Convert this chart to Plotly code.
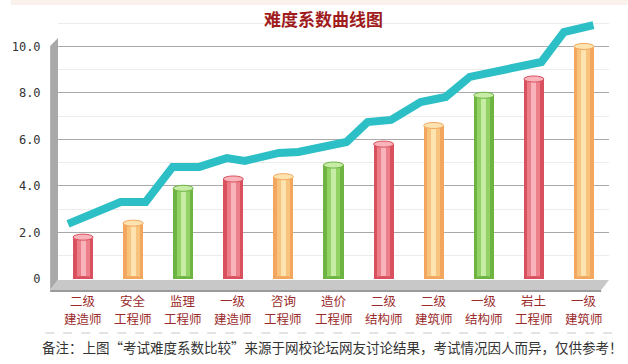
import plotly.graph_objects as go

label_top = ["二级", "安全", "监理", "一级", "咨询", "造价", "二级", "二级", "一级", "岩土", "一级"]
label_bottom = ["建造师", "工程师", "工程师", "建造师", "工程师", "工程师", "结构师", "建筑师", "结构师", "工程师", "建筑师"]
bar_values = [1.8, 2.4, 3.9, 4.3, 4.4, 4.9, 5.8, 6.6, 7.9, 8.6, 10.0]
bar_groups = ["r", "o", "g", "r", "o", "g", "r", "o", "g", "r", "o"]

line_x = [-0.30, 0.75, 1.25, 1.79, 2.32, 2.87, 3.23, 3.91, 4.30, 5.26, 5.68, 6.15, 6.74, 7.24, 7.72, 9.15, 9.60, 10.19]
line_y = [2.37, 3.31, 3.31, 4.82, 4.82, 5.20, 5.08, 5.42, 5.46, 5.89, 6.75, 6.84, 7.61, 7.83, 8.69, 9.33, 10.62, 10.92]

y_tickvals = [0, 2, 4, 6, 8, 10]
y_ticktext = ["0", "2.0", "4.0", "6.0", "8.0", "10.0"]

title_text = "难度系数曲线图"
note_text = "备注：上图“考试难度系数比较”来源于网校论坛网友讨论结果，考试情况因人而异，仅供参考！"

palette = {
    "r": ("#D9505F", "#EC7F8A", "#F8B4BA"),
    "o": ("#F2A65E", "#F8C37C", "#FDE3B0"),
    "g": ("#6DB443", "#93D264", "#C6ECA6"),
}

W, H = 628, 364
L, R, T, B = 48, 19, 19, 85
plot_w, plot_h = W - L - R, H - T - B
YMAX = 11.18

def px(x):
    return (x - L) / plot_w

def py(y):
    return (H - B - y) / plot_h

idx = list(range(len(bar_values)))
fig = go.Figure()

widths = [0.40, 0.26, 0.10]
for layer in range(3):
    fig.add_trace(go.Bar(
        x=idx, y=bar_values, width=widths[layer],
        marker=dict(color=[palette[g][layer] for g in bar_groups], line=dict(width=0)),
        hoverinfo="skip", showlegend=False,
    ))

fig.add_trace(go.Scatter(
    x=line_x, y=line_y, mode="lines", xaxis="x2",
    line=dict(color="#2CBFC6", width=8), hoverinfo="skip", showlegend=False,
    cliponaxis=False,
))

shapes = []
shapes.append(dict(type="rect", xref="paper", yref="paper", layer="below",
                   x0=px(0), x1=px(628), y0=py(0), y1=py(5),
                   fillcolor="#FBF1EC", line=dict(width=0)))
shapes.append(dict(type="path", xref="paper", yref="paper", layer="between",
                   path=f"M {px(40)},{py(290)} L {px(40)},{py(46)} L {px(48)},{py(38)} L {px(48)},{py(280)} Z",
                   fillcolor="#A9A9A9", line=dict(width=0)))
shapes.append(dict(type="path", xref="paper", yref="paper", layer="between",
                   path=f"M {px(40)},{py(290)} L {px(48)},{py(280)} L {px(609)},{py(280)} L {px(601)},{py(290)} Z",
                   fillcolor="#C8C8C8", line=dict(width=0)))
shapes.append(dict(type="path", xref="paper", yref="paper", layer="between",
                   path=f"M {px(40)},{py(290)} L {px(601)},{py(290)} L {px(601)},{py(292)} L {px(40)},{py(292)} Z",
                   fillcolor="#9A9A9A", line=dict(width=0)))
for i, (v, g) in enumerate(zip(bar_values, bar_groups)):
    shapes.append(dict(type="circle", xref="x", yref="y", layer="above",
                       x0=i - 0.20, x1=i + 0.20, y0=v - 0.13, y1=v + 0.13,
                       fillcolor=palette[g][2], line=dict(color=palette[g][0], width=1)))
    shapes.append(dict(type="circle", xref="x", yref="y", layer="above",
                       x0=i - 0.20, x1=i + 0.20, y0=-0.13, y1=0.13,
                       fillcolor=palette[g][0], line=dict(width=0)))
shapes.append(dict(type="line", xref="paper", yref="paper",
                   x0=px(35), x1=px(620), y0=py(333), y1=py(333),
                   line=dict(color="#C8C8C8", width=1, dash="dash")))

annotations = [
    dict(text=f"<b>{title_text}</b>", x=px(318), y=py(18), xref="paper", yref="paper",
         showarrow=False, xanchor="center", yanchor="middle",
         font=dict(size=17, color="#A01C1C", family="Noto Sans CJK SC")),
    dict(text=note_text, x=px(30), y=py(347), xref="paper", yref="paper",
         showarrow=False, xanchor="left", yanchor="middle",
         font=dict(size=13.5, color="#333", family="Noto Sans CJK SC")),
]
for i, (t1, t2) in enumerate(zip(label_top, label_bottom)):
    annotations.append(dict(text=t1, x=i, y=py(300), xref="x", yref="paper",
                            showarrow=False, xanchor="center", yanchor="middle",
                            font=dict(size=12.5, color="#9A2B2B", family="Noto Sans CJK SC")))
    annotations.append(dict(text=t2, x=i, y=py(318), xref="x", yref="paper",
                            showarrow=False, xanchor="center", yanchor="middle",
                            font=dict(size=12.5, color="#9A2B2B", family="Noto Sans CJK SC")))

fig.update_layout(
    width=W, height=H,
    margin=dict(l=L, r=R, t=T, b=B),
    paper_bgcolor="white", plot_bgcolor="white",
    barmode="overlay", bargap=0,
    shapes=shapes,
    annotations=annotations,
    font=dict(family="Noto Sans CJK SC", size=13, color="#333"),
    xaxis=dict(
        range=[-0.5, len(bar_values) - 0.5],
        showgrid=False, zeroline=False, showline=False, showticklabels=False,
        fixedrange=True,
    ),
    xaxis2=dict(overlaying="x", range=[-0.5, len(bar_values) - 0.5], visible=False),
    yaxis=dict(
        range=[0, YMAX], tickmode="array", tickvals=y_tickvals, ticktext=y_ticktext,
        showgrid=True, gridcolor="#A9A9A9", gridwidth=1,
        minor=dict(dtick=1, showgrid=True, gridcolor="#ECECEC", tickmode="linear", tick0=0),
        zeroline=False, showline=False,
        ticks="outside", ticklen=14, tickcolor="rgba(0,0,0,0)",
        tickfont=dict(size=12, color="#333", family="DejaVu Sans Mono"),
        fixedrange=True,
    ),
)

fig.write_html("out.html", config={"displayModeBar": False},
               post_script="document.body.style.margin='0';document.body.style.overflow='hidden';")
